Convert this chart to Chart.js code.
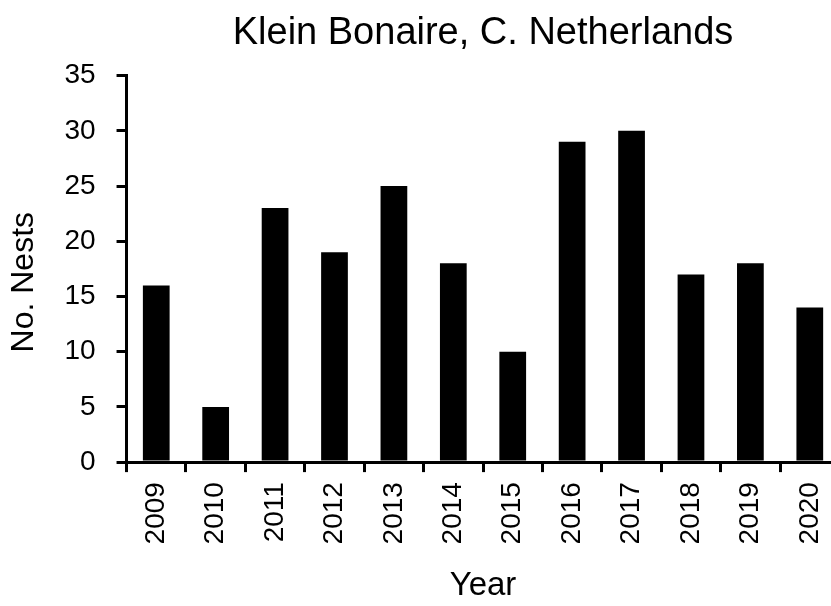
<!DOCTYPE html>
<html>
<head>
<meta charset="utf-8">
<script src="https://cdn.jsdelivr.net/npm/chart.js@4.4.0/dist/chart.umd.min.js"></script>
<style>
  html, body { margin: 0; padding: 0; background: #fff; overflow: hidden; }
  #wrap { width: 831px; height: 606px; overflow: hidden; }
</style>
</head>
<body>
<div id="wrap"><canvas id="chart" width="854" height="606"></canvas></div>
<script>
const years = ['2009', '2010', '2011', '2012', '2013', '2014', '2015', '2016', '2017', '2018', '2019', '2020'];
const nests = [16, 5, 23, 19, 25, 18, 10, 29, 30, 17, 18, 14];
const yTicks = [0, 5, 10, 15, 20, 25, 30, 35];

const chartTitle = 'Klein Bonaire, C. Netherlands';
const font = 'Liberation Sans, Arial, sans-serif';

// the plot runs slightly past the right edge in the original, so the canvas is a bit wider than the page
new Chart(document.getElementById('chart'), {
  type: 'bar',
  data: {
    labels: years,
    datasets: [{
      label: 'No. Nests',
      data: nests,
      backgroundColor: '#000',
      borderWidth: 0,
      barPercentage: 0.45,
      categoryPercentage: 1
    }]
  },
  options: {
    responsive: false,
    animation: false,
    layout: { padding: { top: 0, right: 0, left: 5, bottom: 0 } },
    plugins: {
      legend: { display: false },
      tooltip: { enabled: false }
    },
    scales: {
      // empty top axis, only used so the title is centred over the plot
      top: {
        type: 'category',
        position: 'top',
        labels: years,
        grid: { display: false },
        border: { display: false },
        ticks: { display: false },
        title: { display: true, text: chartTitle, color: '#000', font: { family: font, size: 38 }, padding: { top: 11, bottom: 11 } }
      },
      x: {
        border: { display: true, color: '#000', width: 3 },
        grid: { display: true, drawOnChartArea: false, drawTicks: true, tickLength: 10, color: '#000', lineWidth: 3, offset: true },
        ticks: { color: '#000', font: { family: font, size: 28 }, minRotation: 90, maxRotation: 90, padding: 10 },
        title: { display: true, text: 'Year', color: '#000', font: { family: font, size: 33 }, padding: { top: 12, bottom: 0 } }
      },
      y: {
        min: 0,
        max: 35,
        afterBuildTicks: axis => { axis.ticks = yTicks.map(v => ({ value: v })); },
        border: { display: true, color: '#000', width: 3 },
        grid: { display: true, drawOnChartArea: false, drawTicks: true, tickLength: 10, color: '#000', lineWidth: 3 },
        ticks: { color: '#000', font: { family: font, size: 28 }, padding: 21 },
        title: { display: true, text: 'No. Nests   ', color: '#000', font: { family: font, size: 32 }, padding: { top: 0, bottom: 0 } }
      }
    }
  }
});
</script>
</body>
</html>
